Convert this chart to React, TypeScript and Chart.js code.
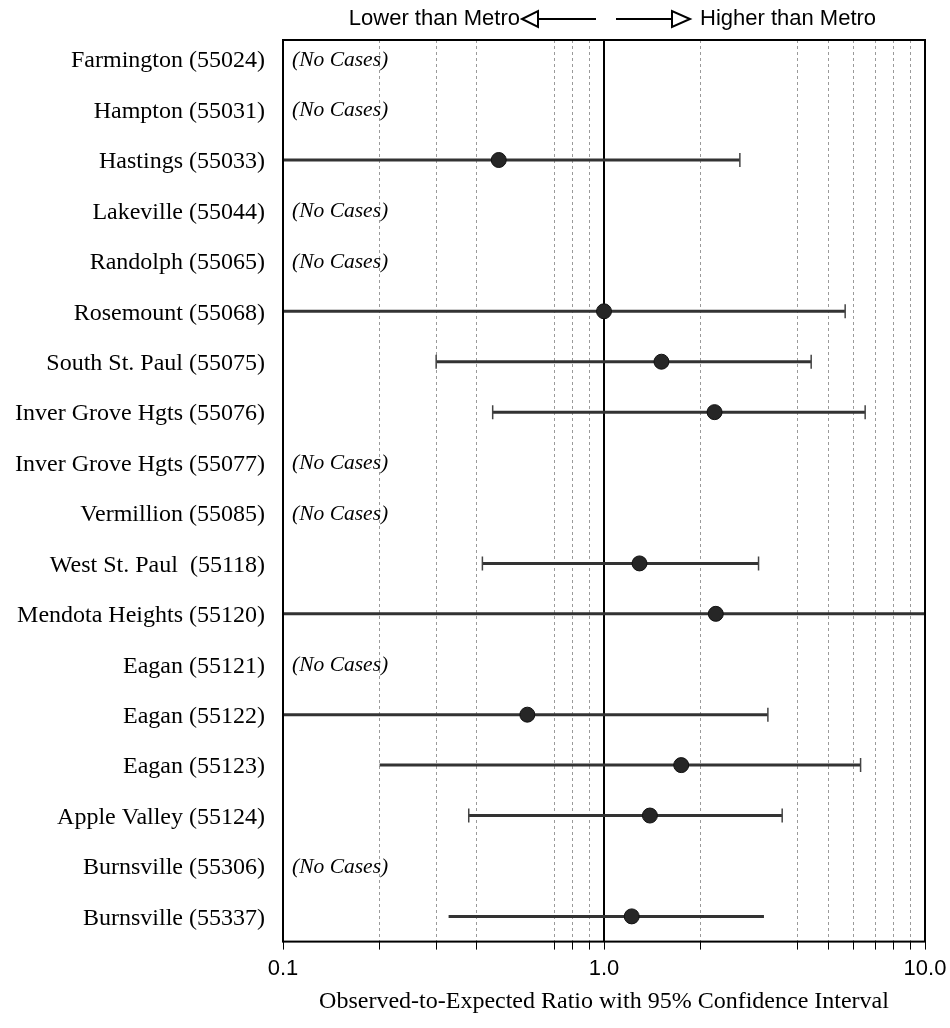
import React, { useEffect, useRef } from "react";
import { Chart, registerables } from "chart.js";

Chart.register(...registerables);

const rowLabels = [
  "Farmington (55024)",
  "Hampton (55031)",
  "Hastings (55033)",
  "Lakeville (55044)",
  "Randolph (55065)",
  "Rosemount (55068)",
  "South St. Paul (55075)",
  "Inver Grove Hgts (55076)",
  "Inver Grove Hgts (55077)",
  "Vermillion (55085)",
  "West St. Paul  (55118)",
  "Mendota Heights (55120)",
  "Eagan (55121)",
  "Eagan (55122)",
  "Eagan (55123)",
  "Apple Valley (55124)",
  "Burnsville (55306)",
  "Burnsville (55337)",
];

// Observed-to-expected ratio (null = no cases)
const ratio = [null, null, 0.47, null, null, 1.0, 1.51, 2.21, null, null, 1.29, 2.23, null, 0.577, 1.74, 1.39, null, 1.22];
// 95% CI bounds (values beyond 0.1..10 run off the plot)
const lower = [null, null, 0.04, null, null, 0.04, 0.3, 0.45, null, null, 0.418, 0.04, null, 0.04, 0.2, 0.379, null, 0.328];
const upper = [null, null, 2.65, null, null, 5.64, 4.42, 6.51, null, null, 3.03, 14, null, 3.24, 6.3, 3.59, null, 3.15];
// whether an end cap is drawn at each CI end
const capLower = [false, false, false, false, false, false, true, true, false, false, true, false, false, false, false, true, false, false];
const capUpper = [false, false, true, false, false, true, true, true, false, false, true, false, false, true, true, true, false, false];

const gridValues = [0.1, 0.2, 0.3, 0.4, 0.7, 0.8, 0.9, 1, 2, 4, 5, 6, 7, 8, 9, 10];
const tickLabelValues = [0.1, 1, 10];
const tickLabelTexts = ["0.1", "1.0", "10.0"];

const noCasesText = "(No Cases)";
const headerLeft = "Lower than Metro";
const headerRight = "Higher than Metro";
const axisTitle = "Observed-to-Expected Ratio with 95% Confidence Interval";

const SERIF = '"Liberation Serif", "Times New Roman", serif';
const SANS = '"Liberation Sans", Arial, sans-serif';

const overlayPlugin = {
  id: "overlay",
  beforeDatasetsDraw(chart: any) {
    const { ctx, chartArea, scales } = chart;
    const x1 = scales.x.getPixelForValue(1);
    ctx.save();
    ctx.strokeStyle = "#000";
    ctx.lineWidth = 2;
    ctx.beginPath();
    ctx.moveTo(x1, chartArea.top);
    ctx.lineTo(x1, chartArea.bottom);
    ctx.stroke();
    ctx.restore();
  },
  afterDatasetsDraw(chart: any) {
    const { ctx, chartArea } = chart;
    ctx.save();
    ctx.strokeStyle = "#000";
    ctx.lineWidth = 2;
    ctx.strokeRect(chartArea.left, chartArea.top, chartArea.right - chartArea.left, chartArea.bottom - chartArea.top);
    ctx.restore();
  },
  afterDraw(chart: any) {
    const { ctx, chartArea, scales } = chart;
    const ys = scales.y;
    const xs = scales.x;
    ctx.save();
    ctx.fillStyle = "#000";
    ctx.textBaseline = "middle";
    // row labels
    ctx.font = `24px ${SERIF}`;
    ctx.textAlign = "right";
    rowLabels.forEach((lab, i) => {
      ctx.fillText(lab, chartArea.left - 18, ys.getPixelForValue(i + 1) + 2);
    });
    // no cases
    ctx.font = `italic 21.5px ${SERIF}`;
    ctx.textAlign = "left";
    rowLabels.forEach((_, i) => {
      if (ratio[i] == null) ctx.fillText(noCasesText, chartArea.left + 9, ys.getPixelForValue(i + 1) + 1);
    });
    // header
    const x1 = xs.getPixelForValue(1);
    const hy = 19;
    ctx.font = `22px ${SANS}`;
    ctx.strokeStyle = "#000";
    ctx.lineWidth = 2;
    // left arrow
    ctx.textAlign = "right";
    ctx.fillText(headerLeft, x1 - 84, hy);
    ctx.beginPath();
    ctx.moveTo(x1 - 8, hy);
    ctx.lineTo(x1 - 66, hy);
    ctx.stroke();
    ctx.beginPath();
    ctx.moveTo(x1 - 66, hy - 8);
    ctx.lineTo(x1 - 66, hy + 8);
    ctx.lineTo(x1 - 82, hy);
    ctx.closePath();
    ctx.stroke();
    // right arrow
    ctx.textAlign = "left";
    ctx.fillText(headerRight, x1 + 96, hy);
    ctx.beginPath();
    ctx.moveTo(x1 + 12, hy);
    ctx.lineTo(x1 + 68, hy);
    ctx.stroke();
    ctx.beginPath();
    ctx.moveTo(x1 + 68, hy - 8);
    ctx.lineTo(x1 + 68, hy + 8);
    ctx.lineTo(x1 + 86, hy);
    ctx.closePath();
    ctx.stroke();
    ctx.restore();
  },
};

export default function App() {
  const canvasRef = useRef<HTMLCanvasElement | null>(null);

  useEffect(() => {
    if (!canvasRef.current) return;

    const ciDatasets: any[] = [];
    rowLabels.forEach((_, i) => {
      if (ratio[i] == null) return;
      ciDatasets.push({
        type: "scatter",
        data: [
          { x: lower[i], y: i + 1 },
          { x: upper[i], y: i + 1 },
        ],
        showLine: true,
        borderColor: "#333",
        borderWidth: 3,
        pointRadius: 0,
        order: 3,
      });
    });

    const capData: any[] = [];
    rowLabels.forEach((_, i) => {
      if (ratio[i] == null) return;
      if (capLower[i]) capData.push({ x: lower[i], y: i + 1 });
      if (capUpper[i]) capData.push({ x: upper[i], y: i + 1 });
    });

    const pointData = rowLabels
      .map((_, i) => (ratio[i] == null ? null : { x: ratio[i], y: i + 1 }))
      .filter((p) => p !== null);

    const chart = new Chart(canvasRef.current, {
      type: "scatter",
      data: {
        datasets: [
          {
            data: pointData as any,
            pointRadius: 7.5,
            pointBackgroundColor: "#262626",
            pointBorderColor: "#111",
            pointBorderWidth: 1,
            order: 1,
          },
          {
            data: capData,
            pointStyle: "line",
            rotation: 90,
            pointRadius: 7,
            pointBorderColor: "#444",
            pointBorderWidth: 1.5,
            order: 2,
          } as any,
          ...ciDatasets,
        ],
      },
      options: {
        animation: false,
        responsive: true,
        maintainAspectRatio: false,
        layout: { padding: { left: 283, right: 25, top: 40, bottom: 14 } },
        plugins: { legend: { display: false }, tooltip: { enabled: false } },
        scales: {
          x: {
            type: "logarithmic",
            min: 0.1,
            max: 10,
            afterBuildTicks: (axis: any) => {
              axis.ticks = gridValues.map((v) => ({ value: v }));
            },
            afterFit: (axis: any) => {
              axis.paddingLeft = 0;
              axis.paddingRight = 0;
            },
            grid: {
              display: true,
              color: (c: any) => {
                const v = c.tick ? c.tick.value : null;
                if (v === 0.1 || v === 1 || v === 10) return "rgba(0,0,0,0)";
                return "#9a9a9a";
              },
              lineWidth: 1,
              drawTicks: true,
              tickLength: 8,
              tickColor: "#000",
              tickWidth: 1,
            },
            border: { display: false, dash: [3, 3] },
            ticks: {
              autoSkip: false,
              maxRotation: 0,
              padding: 6,
              color: "#000",
              font: { family: SANS, size: 22 },
              callback: (value: any) => {
                const idx = tickLabelValues.findIndex((t) => Math.abs(t - Number(value)) < 1e-9);
                return idx >= 0 ? tickLabelTexts[idx] : "";
              },
            },
            title: {
              display: true,
              text: axisTitle,
              color: "#000",
              font: { family: SERIF, size: 24, lineHeight: 1.0 },
              padding: { top: 2, bottom: 0 },
            },
          },
          y: {
            type: "linear",
            display: false,
            reverse: true,
            min: 0.62,
            max: 18.5,
          },
        },
      },
      plugins: [overlayPlugin],
    } as any);

    return () => chart.destroy();
  }, []);

  return (
    <div style={{ position: "fixed", left: 0, top: 0, width: 950, height: 1028, background: "#fff" }}>
      <canvas ref={canvasRef} />
    </div>
  );
}
